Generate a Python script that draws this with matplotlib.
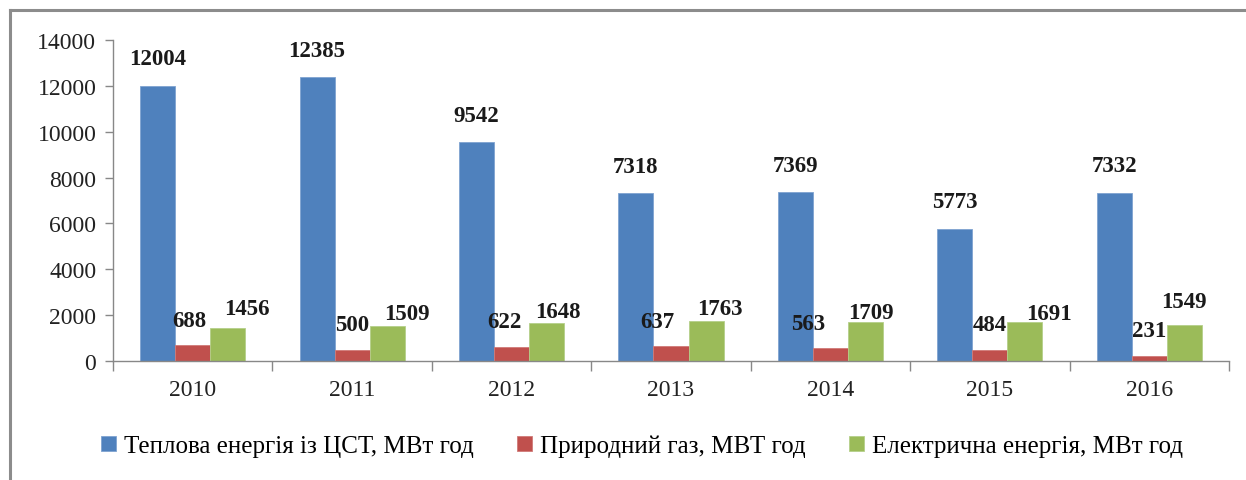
import matplotlib.pyplot as plt
import numpy as np
from matplotlib.lines import Line2D

# data
years = ['2010', '2011', '2012', '2013', '2014', '2015', '2016']
heat = [12004, 12385, 9542, 7318, 7369, 5773, 7332]
gas = [688, 500, 622, 637, 563, 484, 231]
power = [1456, 1509, 1648, 1763, 1709, 1691, 1549]
series_names = ['Теплова енергія із ЦСТ, МВт год',
                'Природний газ, МВТ год',
                'Електрична енергія, МВт год']

# label nudges (pixels), the labels in the original were moved by hand
gas_dx = [-3, 0, -7, -14, -22, 0, 0]
power_dx = [19, 20, 11, 14, 5, 24, 0]
power_dy = [19, 13, 12, 12, 9, 9, 24]

plt.rcParams['font.family'] = ['Liberation Serif', 'DejaVu Serif']

fig = plt.figure(figsize=(12.46, 4.81), dpi=100)
ax = fig.add_axes([113/1246, 1-362/481, (1229-113)/1246, (362-41)/481])

x = np.arange(len(years))
w = 0.22
colors = ['#4F81BD', '#C0504D', '#9BBB59']
b1 = ax.bar(x - w, heat, w, color=colors[0], label=series_names[0], edgecolor='#7fa3d0', linewidth=0.6)
b2 = ax.bar(x, gas, w, color=colors[1], label=series_names[1], edgecolor='#d07a78', linewidth=0.6)
b3 = ax.bar(x + w, power, w, color=colors[2], label=series_names[2], edgecolor='#b5d08a', linewidth=0.6)

lab = dict(ha='center', va='center', fontsize=16.5, fontweight='bold',
           textcoords='offset pixels', color='#1a1a1a')
for i in range(len(years)):
    ax.annotate(str(heat[i]), (x[i] - w, heat[i]), xytext=(0, 27), **lab)
    ax.annotate(str(gas[i]), (x[i], gas[i]), xytext=(gas_dx[i], 25), **lab)
    ax.annotate(str(power[i]), (x[i] + w, power[i]), xytext=(power_dx[i], power_dy[i]), **lab)

ax.set_ylim(0, 14000)
ax.set_yticks(range(0, 14001, 2000))
ax.set_xlim(-0.5, len(years) - 0.5)
ax.set_xticks(x)
ax.set_xticklabels(years)
ax.set_xticks(np.arange(-0.5, len(years)), minor=True)
ax.tick_params(axis='x', which='major', length=0, pad=13, labelsize=17, labelcolor='#222222')
ax.tick_params(axis='x', which='minor', length=7, color='#888888', width=1)
ax.tick_params(axis='y', length=6, color='#888888', width=1, labelsize=17, labelcolor='#222222', pad=6)

for s in ['top', 'right']:
    ax.spines[s].set_visible(False)
for s in ['left', 'bottom']:
    ax.spines[s].set_color('#888888')
    ax.spines[s].set_linewidth(1)

ax.legend(loc='center', bbox_to_anchor=(642/1246, 1 - 447/481), bbox_transform=fig.transFigure,
          ncol=3, frameon=False, fontsize=18, handlelength=0.6, handleheight=0.6,
          handletextpad=0.35, columnspacing=1.7)

# chart frame (top and left edges visible)
fig.add_artist(Line2D([10/1246, 1], [1-11/481, 1-11/481], color='#8c8c8c', lw=2.2))
fig.add_artist(Line2D([10/1246, 10/1246], [0, 1-11/481], color='#8c8c8c', lw=2.2))

plt.savefig('out.png', dpi=100)
